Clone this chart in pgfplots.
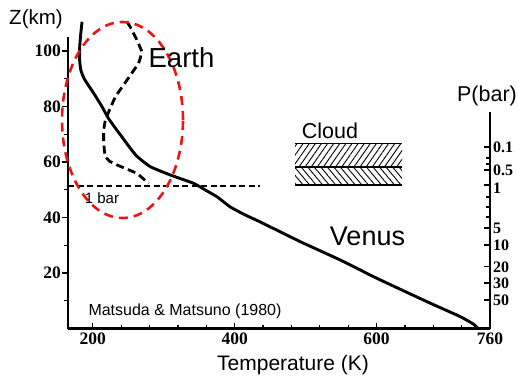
\documentclass[border=0pt]{standalone}
\usepackage{pgfplots}
\pgfplotsset{compat=1.18}
\usepackage{fontspec}
\setmainfont{Liberation Sans}
\newfontfamily\tickfont{Liberation Serif}
\usetikzlibrary{patterns.meta}

\definecolor{ringred}{RGB}{232,22,22}

% Temperature profiles (T in K, altitude in km)
\pgfplotstableread{
T      z
184.8  110.5
182.8  105.7
181.4  101.0
181.4  96.7
183.1  93.1
188.0  89.9
201.1  84.8
213.0  79.9
221.8  75.8
231.7  72.2
241.1  69.0
251.4  65.4
262.3  62.0
281.0  58.3
309.2  55.3
342.0  52.3
358.5  49.9
375.4  47.4
393.7  43.8
414.8  40.9
435.9  38.4
492.3  31.3
548.7  24.7
600.4  18.1
670.8  9.7
717.8  4.3
736.5  1.6
743.1  0.0
}\venus

\pgfplotstableread{
T      z
248.2  110.5
252.8  108.6
257.5  106.3
263.4  103.2
269.3  99.7
266.9  97.4
264.5  95.5
248.2  89.5
231.7  83.5
224.7  79.4
217.6  75.1
215.2  71.5
215.2  67.9
216.2  64.3
217.6  61.9
223.2  60.3
234.1  58.9
262.3  55.9
278.6  52.3
}\earth

\newcommand{\tickfnt}{\tickfont\bfseries\fontsize{17.5}{17.5}\selectfont}
\newcommand{\ptickfnt}{\tickfont\bfseries\fontsize{16}{16}\selectfont}

\begin{document}
\begin{tikzpicture}
\useasboundingbox (0,0) rectangle (518pt,376pt);

% main axis: temperature vs altitude
\begin{axis}[
  at={(68pt,47.5pt)}, anchor=south west,
  width=422pt, height=291.5pt, scale only axis,
  xmin=165, xmax=760, ymin=0, ymax=105,
  axis x line*=bottom, axis y line*=left,
  axis line style={-, line width=2.2pt},
  clip=false,
  xtick={200,400,600,760}, xticklabels={200,400,600,760},
  minor xtick={240,280,...,720},
  ytick={20,40,60,80,100}, yticklabels={20,40,60,80,100},
  minor ytick={10,30,50,70,90},
  xtick align=inside, ytick align=outside,
  major tick length=6pt, minor tick length=4pt,
  every tick/.style={black, line width=1.3pt},
  tick label style={font=\tickfnt},
  yticklabel style={inner sep=1pt},
  xticklabel style={inner sep=2pt, yshift=-2pt},
]
\addplot[black, line width=2.9pt, line join=round, smooth, tension=0.3] table[x=T,y=z] {\venus};
\addplot[black, line width=2.8pt, line join=round, dash pattern=on 8pt off 4.5pt] table[x=T,y=z] {\earth};
% 1 bar level
\addplot[black, line width=1.3pt, dash pattern=on 6pt off 3.5pt] coordinates {(165,51.3) (436,51.3)};
\end{axis}

% pressure axis on the right
\begin{axis}[
  at={(68pt,47.5pt)}, anchor=south west,
  width=422pt, height=216.5pt, scale only axis,
  xmin=165, xmax=760, ymin=0, ymax=78,
  axis x line=none, axis y line*=right,
  axis line style={-, line width=1.8pt},
  ytick={10.3,16.4,22.2,30.1,36.2,57.1,65.4},
  yticklabels={50,30,20,10,5,0.5,0.1},
  extra y ticks={51.7}, extra y tick labels={1},
  extra y tick style={yticklabel style={yshift=-3pt}},
  minor ytick={40.2,43.8,47.4,59.3,61.4},
  ytick align=inside,
  major tick length=6pt, minor tick length=4pt,
  every tick/.style={black, line width=1.2pt},
  tick label style={font=\ptickfnt},
  yticklabel style={inner sep=0.5pt, xshift=2.5pt},
]
\addplot[draw=none] coordinates {(165,0) (760,78)};
\end{axis}

% cloud layer
\path[pattern={Lines[angle=55,distance=5pt,line width=0.9pt]}] (295pt,209pt) rectangle (402pt,233pt);
\path[pattern={Lines[angle=-50,distance=5pt,line width=0.9pt]}] (295pt,191pt) rectangle (402pt,209pt);
\draw[line width=0.9pt] (295pt,233pt) -- (402pt,233pt);
\draw[line width=1.4pt] (295pt,209pt) -- (402pt,209pt);
\draw[line width=1.8pt] (295pt,191pt) -- (402pt,191pt);

% highlight ring around the Earth profile
\draw[ringred, line width=2.6pt, dash pattern=on 9pt off 6pt] (122.5pt,256pt) ellipse [x radius=60.5pt, y radius=98pt];

% labels
\node[font=\fontsize{20.5}{20.5}\selectfont] at (36pt,357pt) {Z(km)};
\node[font=\fontsize{21.5}{21.5}\selectfont] at (487pt,280pt) {P(bar)};
\node[anchor=base, font=\fontsize{27.5}{27.5}\selectfont] at (181.5pt,309pt) {Earth};
\node[anchor=base, font=\fontsize{27}{27}\selectfont] at (367.5pt,131pt) {Venus};
\node[anchor=base, font=\fontsize{21.5}{21.5}\selectfont] at (330pt,237.7pt) {Cloud};
\node[anchor=base, font=\fontsize{15}{15}\selectfont] at (102pt,173pt) {1 bar};
\node[anchor=base, font=\fontsize{16}{16}\selectfont] at (185pt,61pt) {Matsuda \& Matsuno (1980)};
\node[anchor=base, font=\fontsize{21}{21}\selectfont] at (293pt,6pt) {Temperature (K)};
\end{tikzpicture}
\end{document}
